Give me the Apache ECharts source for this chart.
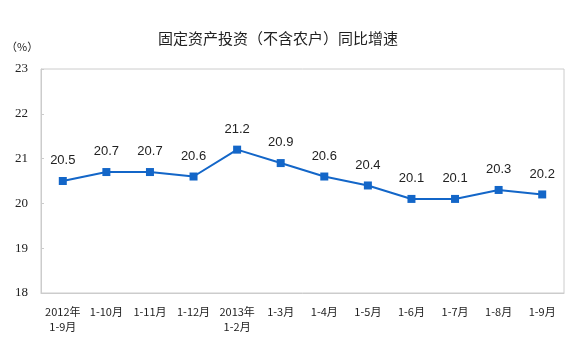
<!DOCTYPE html>
<html>
<head>
<meta charset="utf-8">
<script src="https://cdn.jsdelivr.net/npm/echarts@6/dist/echarts.min.js"></script>
<style>
  html, body { margin: 0; padding: 0; background: #fff; }
  #chart { width: 580px; height: 352px; }
</style>
</head>
<body>
<div id="chart"></div>
<script>
// 类目
var categories = ["2012年\n1-9月", "1-10月", "1-11月", "1-12月", "2013年\n1-2月", "1-3月",
  "1-4月", "1-5月", "1-6月", "1-7月", "1-8月", "1-9月"];
// 同比增速(%)
var growth = [20.5, 20.7, 20.7, 20.6, 21.2, 20.9, 20.6, 20.4, 20.1, 20.1, 20.3, 20.2];
// y轴刻度
var yMin = 18, yMax = 23, yStep = 1;

var chart = echarts.init(document.getElementById("chart"));
var option = {
  backgroundColor: "#fff",
  animation: false,
  title: {
    text: "固定资产投资（不含农户）同比增速",
    left: 273,
    textAlign: "center",
    top: 26,
    textStyle: { fontSize: 15, fontWeight: "normal", color: "#222", fontFamily: "Noto Sans CJK SC" }
  },
  graphic: [{
    type: "text",
    left: 6,
    top: 41,
    style: { text: "（%）", fontSize: 11, fill: "#222", fontFamily: "Noto Sans CJK SC" }
  }],
  grid: {
    left: 41, right: 16, top: 69, bottom: 59,
    show: true, borderColor: "#ccc", borderWidth: 1
  },
  xAxis: {
    type: "category",
    data: categories,
    boundaryGap: true,
    axisLine: { lineStyle: { color: "#ccc" } },
    axisTick: { inside: true, length: 4, lineStyle: { color: "#ccc" } },
    axisLabel: {
      color: "#222", fontSize: 11, lineHeight: 15, margin: 11, interval: 0,
      fontFamily: "Noto Sans CJK SC"
    }
  },
  yAxis: {
    type: "value",
    min: yMin, max: yMax, interval: yStep,
    splitLine: { show: false },
    axisLine: { show: true, lineStyle: { color: "#ccc" } },
    axisTick: { show: true, inside: true, length: 3, lineStyle: { color: "#ccc" } },
    axisLabel: { color: "#222", fontSize: 13, margin: 13, fontFamily: "Liberation Serif" }
  },
  series: [{
    type: "line",
    data: growth,
    symbol: "rect",
    symbolSize: 8,
    lineStyle: { color: "#1366c8", width: 2 },
    itemStyle: { color: "#1366c8" },
    label: {
      show: true, position: "top", distance: 10,
      color: "#222", fontSize: 13, fontFamily: "Liberation Sans"
    }
  }]
};
chart.setOption(option);
</script>
</body>
</html>
